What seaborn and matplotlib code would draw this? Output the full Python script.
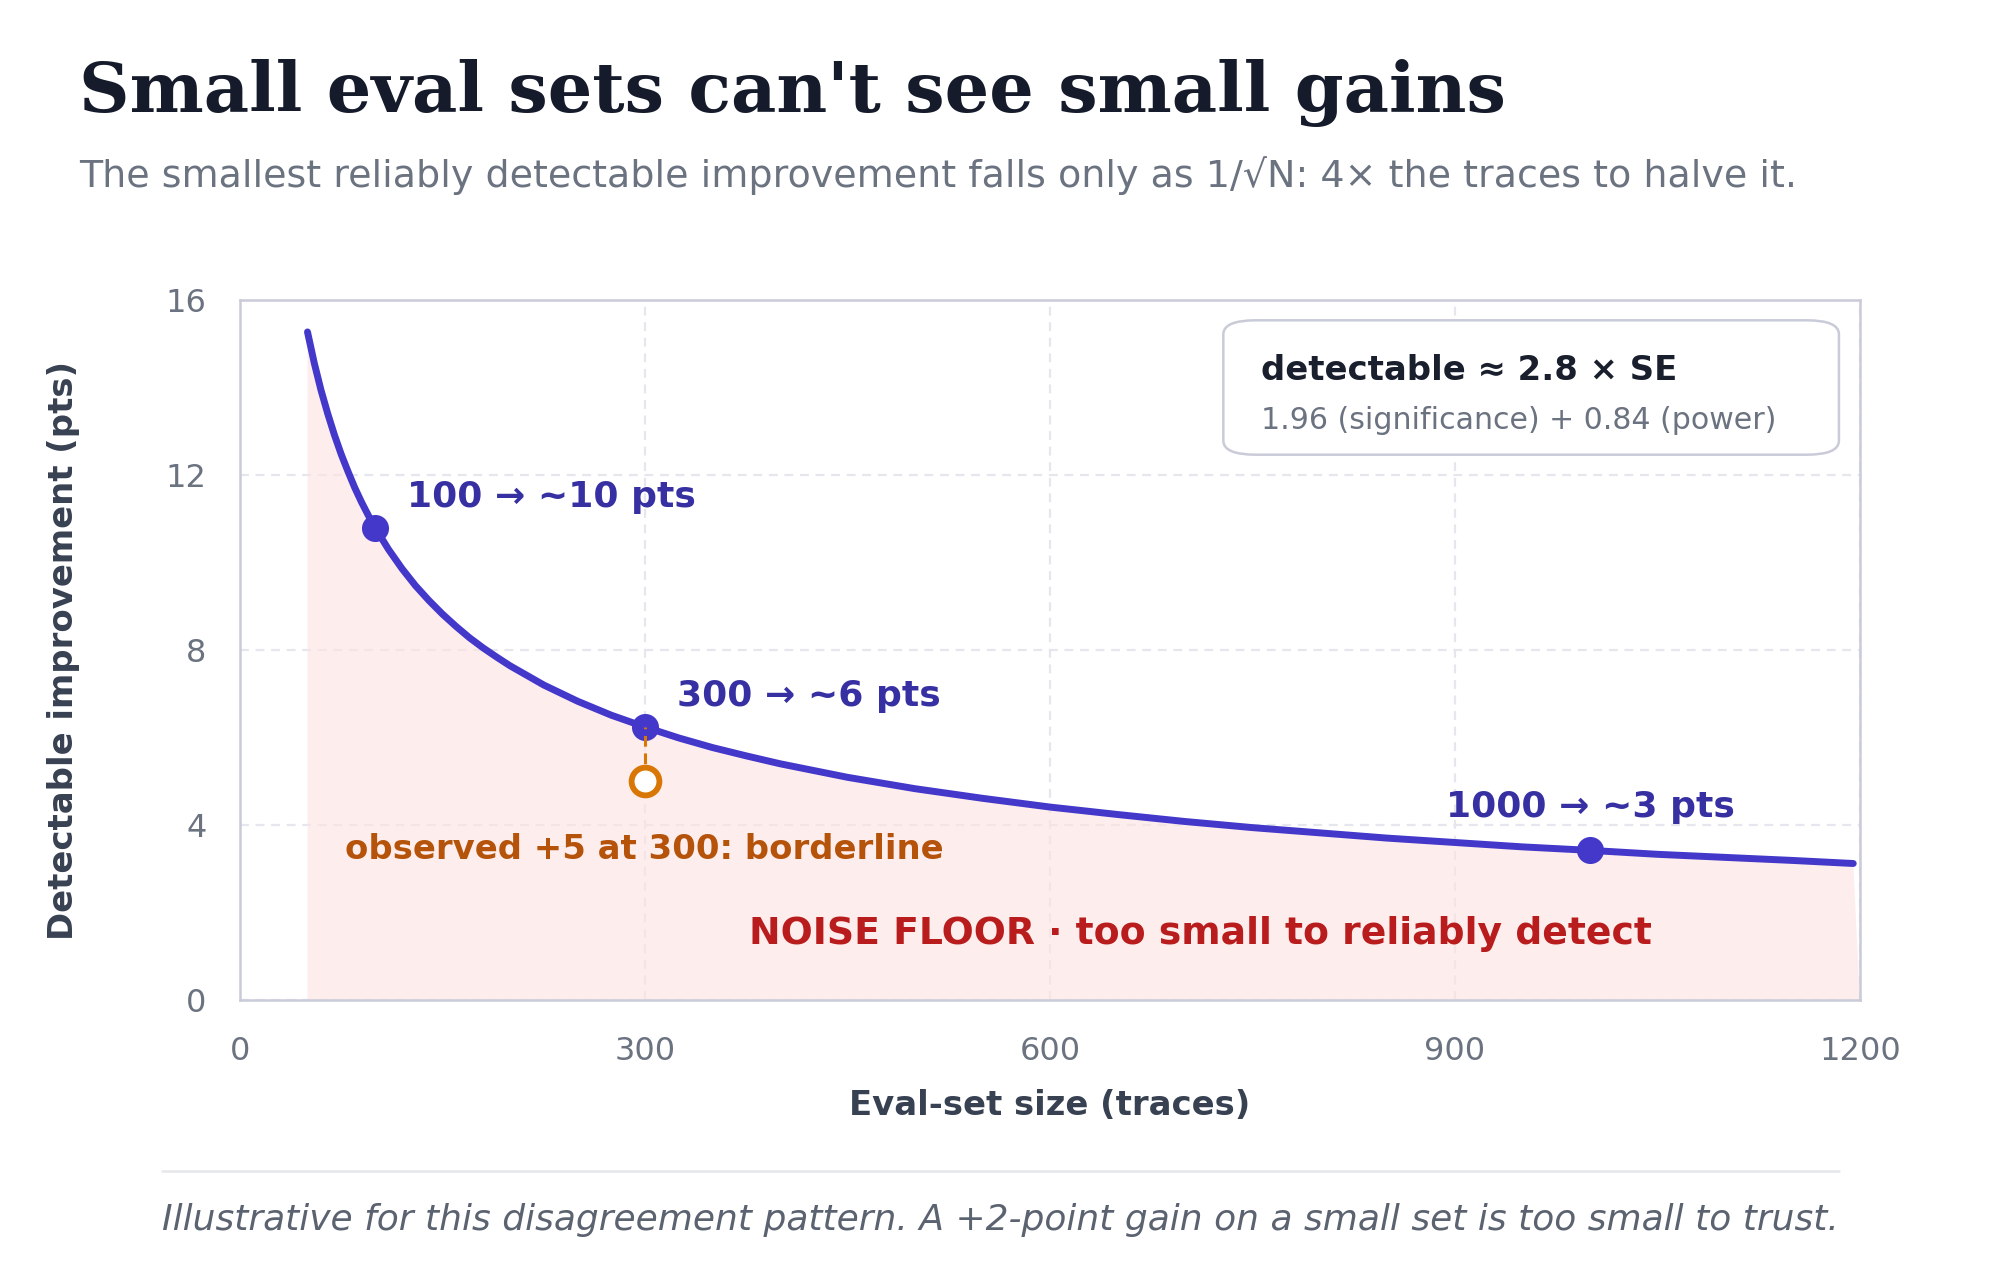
import pandas as pd
import matplotlib.pyplot as plt
import seaborn as sns
from matplotlib.patches import FancyBboxPatch

# detectable improvement (pts), by eval-set size
N_TRACES = [50, 55, 60, 65, 70, 75, 80, 85, 90, 95, 100, 110, 120, 130, 140,
            150, 160, 170, 180, 190, 200, 225, 250, 275, 300, 325, 350, 375,
            400, 450, 500, 550, 600, 650, 700, 750, 800, 850, 900, 950, 1000,
            1050, 1100, 1150, 1195]
DETECTABLE = [15.27, 14.56, 13.94, 13.40, 12.91, 12.47, 12.08, 11.71, 11.38,
              11.08, 10.80, 10.30, 9.86, 9.47, 9.13, 8.82, 8.54, 8.28, 8.05,
              7.84, 7.64, 7.20, 6.83, 6.51, 6.24, 5.99, 5.77, 5.58, 5.40,
              5.09, 4.83, 4.61, 4.41, 4.24, 4.08, 3.94, 3.82, 3.70, 3.60,
              3.50, 3.42, 3.33, 3.26, 3.19, 3.12]

# highlighted sizes and their labels
MARK_N = [100, 300, 1000]
MARK_VAL = [10.80, 6.24, 3.42]
MARK_LABELS = ["100 → ~10 pts", "300 → ~6 pts", "1000 → ~3 pts"]

OBS_N = 300
OBS_VAL = 5.0

X_TICKS = [0, 300, 600, 900, 1200]
Y_TICKS = [0, 4, 8, 12, 16]

INDIGO = "#4338ca"
INDIGO_DARK = "#3730a3"
ORANGE = "#d97706"
ORANGE_DARK = "#b45309"
RED = "#b91c1c"
FILL = "#fee2e2"
SPINE = "#c9cbd9"
GRID = "#e6e7ee"
TICK = "#6b7280"

sns.set_theme(style="white")
plt.rcParams["font.family"] = ["DejaVu Sans"]

fig = plt.figure(figsize=(10, 6.4), dpi=200)
ax = fig.add_axes([0.12, 0.21875, 0.81, 0.546875])

df = pd.DataFrame({"n": N_TRACES, "val": DETECTABLE})
marks = pd.DataFrame({"n": MARK_N, "val": MARK_VAL})

# noise floor region under the curve (grid shows faintly through it)
ax.fill(list(df["n"]) + [1200, df["n"].iloc[0]],
        list(df["val"]) + [0, 0], color=FILL, alpha=0.6, lw=0, zorder=1)

sns.lineplot(data=df, x="n", y="val", color=INDIGO, lw=2.5, ax=ax,
             zorder=3, sort=False)
sns.scatterplot(data=marks, x="n", y="val", color=INDIGO, s=95,
                edgecolor=INDIGO, linewidth=0, ax=ax, zorder=5)

# observed result at 300 traces
ax.plot([OBS_N, OBS_N], [OBS_VAL, MARK_VAL[1]], color=ORANGE, lw=1.1,
        ls=(0, (3.5, 2.2)), zorder=6)
ax.scatter([OBS_N], [OBS_VAL], s=100, facecolor="white", edgecolor=ORANGE,
           linewidth=2.1, zorder=7)

label_pos = [(124, 11.5), (324, 6.95), (893, 4.4)]
for (tx, ty), lab in zip(label_pos, MARK_LABELS):
    ax.text(tx, ty, lab, color=INDIGO_DARK, fontsize=13, fontweight="bold",
            ha="left", va="center", zorder=7)

ax.text(78, 3.44, "observed +5 at 300: borderline", color=ORANGE_DARK,
        fontsize=12.2, fontweight="bold", ha="left", va="center", zorder=7)
ax.text(377, 1.50, "NOISE FLOOR · too small to reliably detect", color=RED,
        fontsize=13.6, fontweight="bold", ha="left", va="center", zorder=7)

# formula box
box = FancyBboxPatch((0.607, 0.779), 0.380, 0.192,
                     boxstyle="round,pad=0,rounding_size=0.02",
                     transform=ax.transAxes, facecolor="white",
                     edgecolor=SPINE, lw=0.9, zorder=8)
ax.add_patch(box)
ax.text(0.630, 0.900, "detectable ≈ 2.8 × SE", transform=ax.transAxes,
        color="#1a1f2e", fontsize=12.2, fontweight="bold", ha="left",
        va="center", zorder=9)
ax.text(0.630, 0.828, "1.96 (significance) + 0.84 (power)",
        transform=ax.transAxes, color=TICK, fontsize=10.8, ha="left",
        va="center", zorder=9)

ax.set_xlim(0, 1200)
ax.set_ylim(0, 16)
ax.set_xticks(X_TICKS)
ax.set_yticks(Y_TICKS)
ax.tick_params(axis="both", length=0, colors=TICK, labelsize=11.5)
ax.tick_params(axis="x", pad=13)
ax.tick_params(axis="y", pad=12)
ax.grid(True, color=GRID, ls=(0, (4, 3)), lw=0.8)
ax.set_axisbelow(True)
for sp in ax.spines.values():
    sp.set_color(SPINE)
    sp.set_linewidth(0.9)

ax.set_xlabel("Eval-set size (traces)", fontsize=12.2, fontweight="bold",
              color="#374151", labelpad=8)
ax.set_ylabel("Detectable improvement (pts)", fontsize=12.2,
              fontweight="bold", color="#374151", labelpad=31)

fig.text(0.0395, 0.9125, "Small eval sets can't see small gains",
         family="DejaVu Serif", fontsize=25.2, fontweight="bold",
         color="#161b2b", ha="left", va="baseline")
fig.text(0.0395, 0.854,
         "The smallest reliably detectable improvement falls only as 1/√N: "
         "4× the traces to halve it.",
         fontsize=13.7, color=TICK, ha="left", va="baseline")

fig.add_artist(plt.Line2D([0.081, 0.9195], [0.085, 0.085],
                          transform=fig.transFigure, color="#e5e7eb", lw=0.9))
fig.text(0.081, 0.047,
         "Illustrative for this disagreement pattern. A +2-point gain on a "
         "small set is too small to trust.",
         fontsize=12.95, style="italic", color="#5b6270", ha="left",
         va="center")

fig.savefig("out.png", dpi=200)
